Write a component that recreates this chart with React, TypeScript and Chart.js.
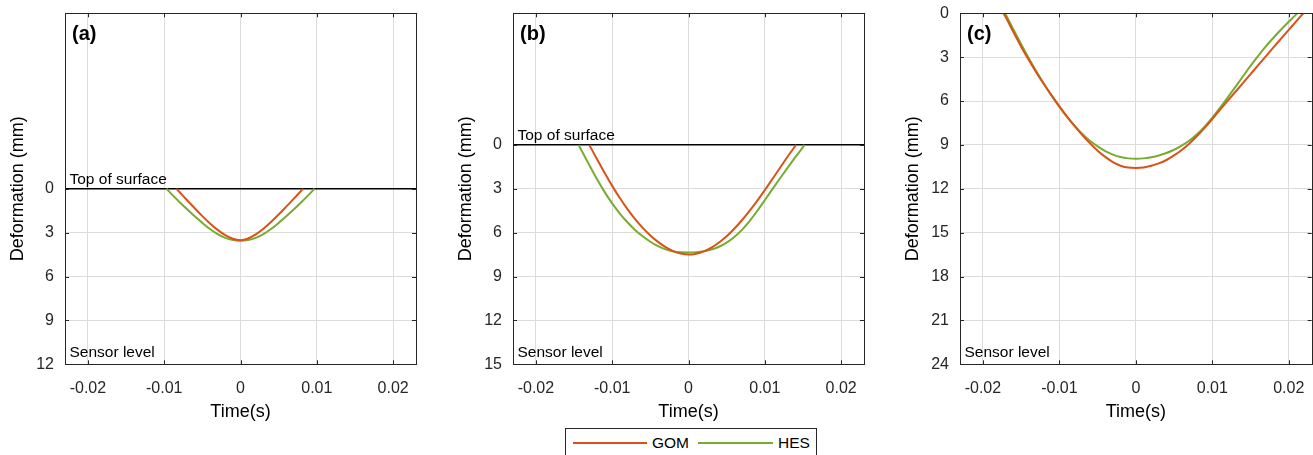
import React, { useEffect, useRef } from "react";
import { Chart, registerables } from "chart.js";

Chart.register(...registerables);

const FONT = "'Liberation Sans', Arial, Helvetica, sans-serif";
const RED = "#D95319";
const GREEN = "#77AC30";
const GRID = "#dcdcdc";
const AXIS = "#262626";

// ---- data ----
const xTicks = [-0.02, -0.01, 0, 0.01, 0.02];
const xTickLabels = ["-0.02", "-0.01", "0", "0.01", "0.02"];
const yTicksA = [0, 3, 6, 9, 12];
const yTicksB = [0, 3, 6, 9, 12, 15];
const yTicksC = [0, 3, 6, 9, 12, 15, 18, 21, 24];
const seriesNames = ["GOM", "HES"];

const timeA_GOM = [-0.0084, -0.008, -0.007, -0.006, -0.005, -0.004, -0.003, -0.002, -0.001, 0, 0.001, 0.002, 0.003, 0.004, 0.005, 0.006, 0.007, 0.008, 0.0082];
const defA_GOM = [0, 0.22, 0.78, 1.33, 1.87, 2.37, 2.81, 3.17, 3.42, 3.52, 3.4, 3.12, 2.73, 2.27, 1.76, 1.22, 0.67, 0.11, 0];
const timeA_HES = [-0.0097, -0.009, -0.008, -0.007, -0.006, -0.005, -0.004, -0.003, -0.002, -0.001, 0, 0.001, 0.002, 0.003, 0.004, 0.005, 0.006, 0.007, 0.008, 0.009, 0.0097];
const defA_HES = [0, 0.38, 0.9, 1.4, 1.88, 2.33, 2.75, 3.1, 3.36, 3.51, 3.55, 3.51, 3.36, 3.1, 2.75, 2.33, 1.88, 1.4, 0.9, 0.38, 0];

const timeB_GOM = [-0.013, -0.012, -0.011, -0.01, -0.009, -0.008, -0.007, -0.006, -0.005, -0.004, -0.003, -0.002, -0.001, 0, 0.001, 0.002, 0.003, 0.004, 0.005, 0.006, 0.007, 0.008, 0.009, 0.01, 0.011, 0.012, 0.013, 0.0141];
const defB_GOM = [0, 0.96, 1.9, 2.8, 3.63, 4.39, 5.07, 5.67, 6.19, 6.63, 6.99, 7.26, 7.43, 7.5, 7.44, 7.28, 7.02, 6.67, 6.24, 5.73, 5.15, 4.51, 3.82, 3.09, 2.33, 1.56, 0.79, 0];
const timeB_HES = [-0.0144, -0.014, -0.013, -0.012, -0.011, -0.01, -0.009, -0.008, -0.007, -0.006, -0.005, -0.004, -0.003, -0.002, -0.001, 0, 0.001, 0.002, 0.003, 0.004, 0.005, 0.006, 0.007, 0.008, 0.009, 0.01, 0.011, 0.012, 0.013, 0.014, 0.015, 0.0152];
const defB_HES = [0, 0.4, 1.38, 2.33, 3.21, 4.0, 4.69, 5.29, 5.81, 6.25, 6.62, 6.92, 7.14, 7.28, 7.34, 7.35, 7.33, 7.27, 7.15, 6.96, 6.68, 6.3, 5.81, 5.21, 4.52, 3.78, 3.02, 2.28, 1.55, 0.84, 0.15, 0];

const timeC_GOM = [-0.0173, -0.017, -0.016, -0.015, -0.014, -0.013, -0.012, -0.011, -0.01, -0.009, -0.008, -0.007, -0.006, -0.005, -0.004, -0.003, -0.002, -0.001, 0, 0.001, 0.002, 0.003, 0.004, 0.005, 0.006, 0.007, 0.008, 0.009, 0.01, 0.011, 0.012, 0.013, 0.014, 0.015, 0.016, 0.017, 0.018, 0.019, 0.02, 0.021, 0.0219];
const defC_GOM = [0, 0.28, 1.3, 2.28, 3.2, 4.06, 4.87, 5.63, 6.36, 7.06, 7.72, 8.33, 8.89, 9.39, 9.82, 10.17, 10.42, 10.55, 10.57, 10.54, 10.43, 10.26, 10.03, 9.72, 9.35, 8.9, 8.39, 7.83, 7.23, 6.6, 5.99, 5.38, 4.77, 4.16, 3.55, 2.94, 2.33, 1.73, 1.13, 0.54, 0];
const timeC_HES = [-0.0171, -0.017, -0.016, -0.015, -0.014, -0.013, -0.012, -0.011, -0.01, -0.009, -0.008, -0.007, -0.006, -0.005, -0.004, -0.003, -0.002, -0.001, 0, 0.001, 0.002, 0.003, 0.004, 0.005, 0.006, 0.007, 0.008, 0.009, 0.01, 0.011, 0.012, 0.013, 0.014, 0.015, 0.016, 0.017, 0.018, 0.019, 0.02, 0.021, 0.0211];
const defC_HES = [0, 0.1, 1.12, 2.12, 3.07, 3.98, 4.84, 5.65, 6.4, 7.08, 7.7, 8.25, 8.72, 9.1, 9.42, 9.66, 9.83, 9.92, 9.95, 9.92, 9.84, 9.72, 9.55, 9.33, 9.05, 8.7, 8.27, 7.75, 7.14, 6.47, 5.77, 5.05, 4.32, 3.6, 2.91, 2.26, 1.67, 1.11, 0.58, 0.06, 0];

type Panel = {
  label: string;
  canvasLeft: number;
  canvasWidth: number;
  rightPad: number;
  yMin: number;
  yMax: number;
  yTicks: number[];
  surface: boolean;
  tG: number[];
  dG: number[];
  tH: number[];
  dH: number[];
};

const panels: Panel[] = [
  { label: "(a)", canvasLeft: 0, canvasWidth: 430, rightPad: 14, yMin: -12, yMax: 12, yTicks: yTicksA, surface: true, tG: timeA_GOM, dG: defA_GOM, tH: timeA_HES, dH: defA_HES },
  { label: "(b)", canvasLeft: 448, canvasWidth: 430, rightPad: 14, yMin: -9, yMax: 15, yTicks: yTicksB, surface: true, tG: timeB_GOM, dG: defB_GOM, tH: timeB_HES, dH: defB_HES },
  { label: "(c)", canvasLeft: 895, canvasWidth: 418, rightPad: 1.3, yMin: 0, yMax: 24, yTicks: yTicksC, surface: false, tG: timeC_GOM, dG: defC_GOM, tH: timeC_HES, dH: defC_HES },
];

const H = 430;
const PLOT_TOP = 13.3;
const PLOT_BOTTOM = 364.3;
const YAXIS_W = 65;

function PanelChart({ p }: { p: Panel }) {
  const ref = useRef<HTMLCanvasElement | null>(null);
  useEffect(() => {
    if (!ref.current) return;
    const deco = {
      id: "deco",
      afterDraw(chart: any) {
        const { ctx, chartArea: a, scales } = chart;
        const xs = scales.x;
        const ys = scales.y;
        ctx.save();
        ctx.strokeStyle = AXIS;
        ctx.lineWidth = 1;
        ctx.beginPath();
        for (const v of xTicks) {
          const px = Math.round(xs.getPixelForValue(v)) + 0.5;
          ctx.moveTo(px, a.bottom);
          ctx.lineTo(px, a.bottom - 4);
          ctx.moveTo(px, a.top);
          ctx.lineTo(px, a.top + 4);
        }
        for (const v of p.yTicks) {
          const py = Math.round(ys.getPixelForValue(v)) + 0.5;
          ctx.moveTo(a.left, py);
          ctx.lineTo(a.left + 4, py);
          ctx.moveTo(a.right, py);
          ctx.lineTo(a.right - 4, py);
        }
        ctx.stroke();
        ctx.strokeRect(Math.round(a.left) + 0.5, Math.round(a.top) + 0.5, Math.round(a.right - a.left), Math.round(a.bottom - a.top));
        ctx.fillStyle = "#000";
        ctx.textAlign = "left";
        ctx.textBaseline = "alphabetic";
        ctx.font = `bold 20px ${FONT}`;
        ctx.fillText(p.label, a.left + 7, a.top + 26.5);
        ctx.font = `15.5px ${FONT}`;
        if (p.surface) {
          ctx.fillText("Top of surface", a.left + 4.5, ys.getPixelForValue(0) - 4.5);
        }
        ctx.fillText("Sensor level", a.left + 4.5, a.bottom - 7);
        ctx.restore();
      },
    };
    const chart = new Chart(ref.current, {
      type: "line",
      data: {
        datasets: [
          {
            label: seriesNames[0],
            data: p.tG.map((t, i) => ({ x: t, y: p.dG[i] })),
            borderColor: RED,
            borderWidth: 2,
            pointRadius: 0,
            fill: false,
            cubicInterpolationMode: "monotone",
          },
          {
            label: seriesNames[1],
            data: p.tH.map((t, i) => ({ x: t, y: p.dH[i] })),
            borderColor: GREEN,
            borderWidth: 2,
            pointRadius: 0,
            fill: false,
            cubicInterpolationMode: "monotone",
          },
        ],
      },
      options: {
        animation: false,
        responsive: false,
        devicePixelRatio: 1,
        layout: { padding: { left: 0, top: PLOT_TOP, right: p.rightPad, bottom: 0 } },
        plugins: { legend: { display: false }, tooltip: { enabled: false } },
        scales: {
          x: {
            type: "linear",
            min: -0.023,
            max: 0.023,
            afterBuildTicks: (s: any) => {
              s.ticks = xTicks.map((v) => ({ value: v }));
            },
            afterFit: (s: any) => {
              s.height = H - PLOT_BOTTOM;
              s.paddingLeft = 0;
              s.paddingRight = 0;
              s.paddingTop = 0;
              s.paddingBottom = 0;
            },
            ticks: {
              autoSkip: false,
              maxRotation: 0,
              padding: 15,
              color: AXIS,
              font: { family: FONT, size: 16 },
              callback: (_v: any, i: number) => xTickLabels[i],
            },
            grid: { color: GRID, lineWidth: 1, drawTicks: false },
            border: { display: false },
            title: {
              display: true,
              text: "Time(s)",
              color: "#000",
              font: { family: FONT, size: 18 },
              padding: { top: 0, bottom: 6.9 },
            },
          },
          y: {
            type: "linear",
            reverse: true,
            min: p.yMin,
            max: p.yMax,
            afterBuildTicks: (s: any) => {
              s.ticks = p.yTicks.map((v) => ({ value: v }));
            },
            afterFit: (s: any) => {
              s.width = YAXIS_W;
              s.paddingLeft = 0;
              s.paddingRight = 0;
              s.paddingTop = 0;
              s.paddingBottom = 0;
            },
            ticks: {
              padding: 11,
              color: AXIS,
              font: { family: FONT, size: 16 },
              callback: (v: any) => String(v),
            },
            grid: {
              drawTicks: false,
              color: (c: any) => (p.surface && c.tick && c.tick.value === 0 ? "#000" : GRID),
              lineWidth: (c: any) => (p.surface && c.tick && c.tick.value === 0 ? 1.5 : 1),
            },
            border: { display: false },
            title: {
              display: true,
              text: "Deformation (mm)",
              color: "#000",
              font: { family: FONT, size: 18 },
              padding: { top: 7.2, bottom: 0 },
            },
          },
        },
      },
      plugins: [deco],
    } as any);
    return () => chart.destroy();
  }, [p]);
  return (
    <canvas
      ref={ref}
      width={p.canvasWidth}
      height={H}
      style={{ position: "absolute", left: p.canvasLeft, top: 0, width: p.canvasWidth, height: H }}
    />
  );
}

export default function App() {
  return (
    <div style={{ position: "absolute", left: 0, top: 0, width: 1313, height: 455, background: "#fff", overflow: "hidden", fontFamily: FONT }}>
      {panels.map((p) => (
        <PanelChart key={p.label} p={p} />
      ))}
      <div
        style={{
          position: "absolute",
          left: 565,
          top: 428,
          width: 252,
          height: 40,
          border: `1px solid ${AXIS}`,
          background: "#fff",
          boxSizing: "border-box",
        }}
      >
        <div style={{ position: "absolute", left: 7, top: 13, width: 74, height: 2, background: RED }} />
        <div style={{ position: "absolute", left: 86, top: 5, fontSize: 15.5, lineHeight: "18px", color: "#000" }}>{seriesNames[0]}</div>
        <div style={{ position: "absolute", left: 132, top: 13, width: 75, height: 2, background: GREEN }} />
        <div style={{ position: "absolute", left: 212, top: 5, fontSize: 15.5, lineHeight: "18px", color: "#000" }}>{seriesNames[1]}</div>
      </div>
    </div>
  );
}
